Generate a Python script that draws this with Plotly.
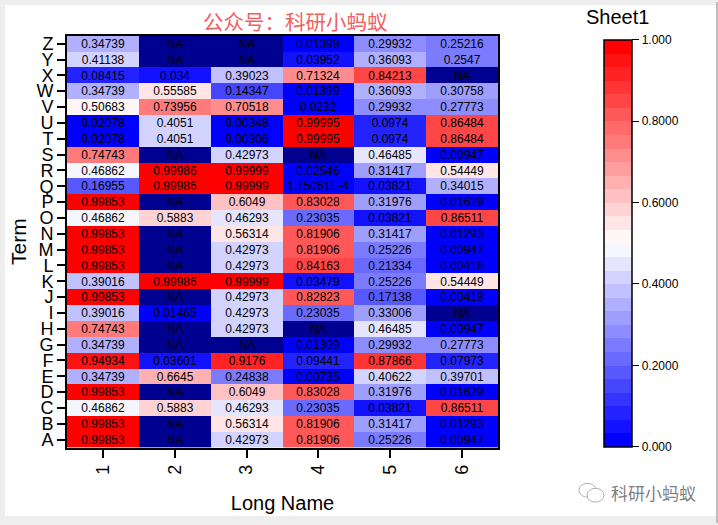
import plotly.graph_objects as go

terms = list("ZYXWVUTSRQPONMLKJIHGFEDCBA")
names = ["1", "2", "3", "4", "5", "6"]

col1 = ["0.34739", "0.41138", "0.08415", "0.34739", "0.50683", "0.02078", "0.02078", "0.74743", "0.46862", "0.16955", "0.99853", "0.46862", "0.99853",
        "0.99853", "0.99853", "0.39016", "0.99853", "0.39016", "0.74743", "0.34739", "0.94934", "0.34739", "0.99853", "0.46862", "0.99853", "0.99853"]
col2 = ["NA", "NA", "0.034", "0.55585", "0.73956", "0.4051", "0.4051", "NA", "0.99986", "0.99986", "NA", "0.5883", "NA",
        "NA", "NA", "0.99986", "NA", "0.01465", "NA", "NA", "0.03601", "0.6645", "NA", "0.5883", "NA", "NA"]
col3 = ["NA", "NA", "0.39023", "0.14347", "0.70518", "0.00348", "0.00306", "0.42973", "0.99999", "0.99999", "0.6049", "0.46293", "0.56314",
        "0.42973", "0.42973", "0.99999", "0.42973", "0.42973", "0.42973", "NA", "0.9176", "0.24838", "0.6049", "0.46293", "0.56314", "0.42973"]
col4 = ["0.01399", "0.03952", "0.71324", "0.01399", "0.0232", "0.99995", "0.99995", "NA", "0.02546", "1.75061E-4", "0.83028", "0.23035", "0.81906",
        "0.81906", "0.84163", "0.03479", "0.82823", "0.23035", "NA", "0.01399", "0.09441", "0.00735", "0.83028", "0.23035", "0.81906", "0.81906"]
col5 = ["0.29932", "0.36093", "0.84213", "0.36093", "0.29932", "0.0974", "0.0974", "0.46485", "0.31417", "0.03821", "0.31976", "0.03821", "0.31417",
        "0.25226", "0.21334", "0.25226", "0.17138", "0.33006", "0.46485", "0.29932", "0.87866", "0.40622", "0.31976", "0.03821", "0.31417", "0.25226"]
col6 = ["0.25216", "0.2547", "NA", "0.30758", "0.27773", "0.86484", "0.86484", "0.00947", "0.54449", "0.34015", "0.01629", "0.86511", "0.01293",
        "0.00947", "0.00418", "0.54449", "0.00418", "NA", "0.00947", "0.27773", "0.07973", "0.39701", "0.01629", "0.86511", "0.01293", "0.00947"]
columns = [col1, col2, col3, col4, col5, col6]

cbar_vals = [0, 0.2, 0.4, 0.6, 0.8, 1]
cbar_text = ["0.000", "0.2000", "0.4000", "0.6000", "0.8000", "1.000"]

text = [[c[i] for c in columns] for i in range(len(terms))]
z = [[None if t == "NA" else float(t) for t in row] for row in text]
z_na = [[1 if t == "NA" else None for t in row] for row in text]
text_num = [["" if t == "NA" else t for t in row] for row in text]
text_na = [["NA" if t == "NA" else "" for t in row] for row in text]

# 30 flat bands, blue -> white -> red
levels = 30
scale = []
for i in range(levels):
    if i < levels / 2:
        v = round(255 * i / (levels / 2 - 0.5))
        c = f"rgb({v},{v},255)"
    else:
        v = round(255 * (levels - 1 - i) / (levels / 2 - 0.5))
        c = f"rgb(255,{v},{v})"
    scale.append([i / levels, c])
    scale.append([(i + 1) / levels, c])

W, H = 718, 525
font = "Liberation Sans, Arial, sans-serif"
cjk = "Noto Sans CJK SC"

fig = go.Figure()
fig.add_trace(go.Heatmap(
    z=z, x=names, y=terms, text=text_num, texttemplate="%{text}",
    textfont=dict(family=font, size=12, color="black"),
    colorscale=scale, zmin=0, zmax=1, hoverongaps=False,
    colorbar=dict(
        x=604 / W, xanchor="left", y=1 - 38 / H, yanchor="top",
        thickness=28, thicknessmode="pixels", len=407, lenmode="pixels",
        outlinecolor="black", outlinewidth=1.5, xpad=0, ypad=0,
        tickmode="array", tickvals=cbar_vals, ticktext=cbar_text,
        ticks="outside", ticklen=7, tickwidth=1.2, tickcolor="black",
        tickfont=dict(family=font, size=12, color="black"),
    ),
))
fig.add_trace(go.Heatmap(
    z=z_na, x=names, y=terms, text=text_na, texttemplate="%{text}",
    textfont=dict(family=font, size=12, color="black"),
    colorscale=[[0, "#000090"], [1, "#000090"]], showscale=False, hoverongaps=False,
))

fig.update_xaxes(
    domain=[67 / W, 498 / W], type="category", dtick=1,
    title=dict(text="Long Name", font=dict(family=font, size=20, color="black"), standoff=22),
    showgrid=False, zeroline=False, showline=True, linecolor="black", linewidth=2, mirror=True,
    ticks="outside", ticklen=8, tickwidth=2, tickcolor="black", tickangle=-90,
    tickfont=dict(family=font, size=18, color="black"),
)
fig.update_yaxes(
    domain=[1 - 449 / H, 1 - 34 / H], type="category", autorange="reversed", dtick=1,
    title=dict(text="Term", font=dict(family=font, size=21, color="black"), standoff=4),
    showgrid=False, zeroline=False, showline=True, linecolor="black", linewidth=2, mirror=True,
    ticks="outside", ticklen=8, tickwidth=2, tickcolor="black",
    tickfont=dict(family=font, size=18, color="black"),
)


def note(label, x, y, family, size, color):
    fig.add_annotation(text=label, x=x / W, y=1 - y / H, xref="paper", yref="paper", showarrow=False,
                       xanchor="center", yanchor="middle", font=dict(family=family, size=size, color=color))


note("公众号\uff1a科研小蚂蚁", 295, 19, cjk, 20.5, "#f0605f")
note("Sheet1", 617, 15, font, 20, "black")
note("科研小蚂蚁", 653, 494, cjk, 17, "#808080")


def box(x0, y0, x1, y1, kind="rect", fill=None, line=None, layer="below"):
    fig.add_shape(type=kind, xref="paper", yref="paper", x0=x0 / W, x1=x1 / W, y0=1 - y0 / H, y1=1 - y1 / H,
                  fillcolor=fill, line=dict(color=line, width=0.8) if line else dict(width=0), layer=layer)


# window edge around the white page
box(5, 3, 716, 518, fill="white")
box(716, 0, 718, 525, fill="#bdbdbd")
# wechat mark
box(579, 485, 596, 499, kind="circle", line="#9a9a9a")
box(587, 490, 604, 504, kind="circle", fill="white", line="#9a9a9a")

fig.update_layout(
    width=W, height=H, margin=dict(l=0, r=0, t=0, b=0),
    paper_bgcolor="#eeeeee", plot_bgcolor="white", showlegend=False,
)
fig.write_html("out.html", config={"displayModeBar": False}, post_script="document.body.style.margin='0';")
